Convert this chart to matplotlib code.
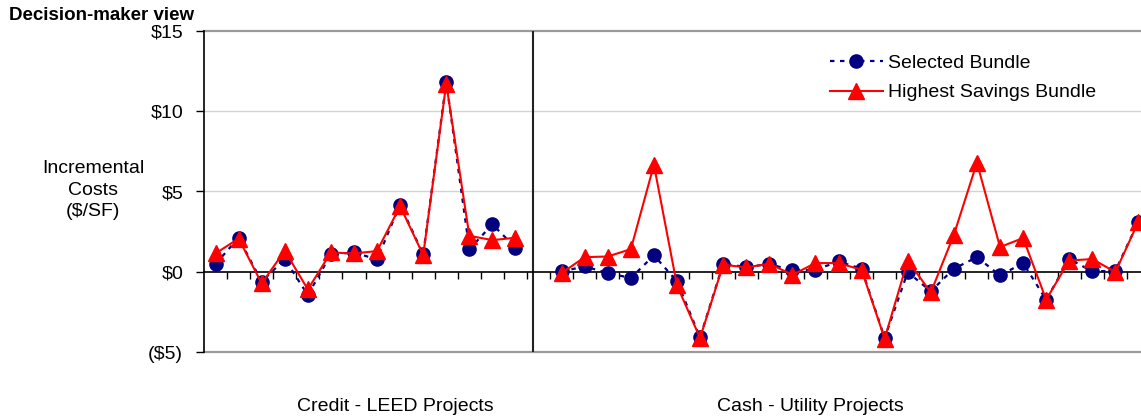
import numpy as np
import matplotlib
matplotlib.use("Agg")
import matplotlib.pyplot as plt
from matplotlib.ticker import FixedLocator, FuncFormatter

plt.rcParams['font.family'] = ['Liberation Sans', 'DejaVu Sans']

# Per-project incremental cost ($/SF); the blank slot separates the two project groups
selected_credit = [0.48, 2.12, -0.62, 0.79, -1.45, 1.08, 1.20, 0.77, 4.19, 1.08, 11.83, 1.41, 2.95, 1.51]
highest_credit = [1.14, 2.07, -0.73, 1.31, -1.10, 1.20, 1.14, 1.29, 4.09, 1.04, 11.72, 2.24, 1.97, 2.12]

selected_cash = [0.02, 0.33, -0.08, -0.39, 1.02, -0.60, -4.09, 0.50, 0.29, 0.48, 0.08, 0.12, 0.64,
                 0.19, -4.13, -0.02, -1.22, 0.19, 0.91, -0.23, 0.54, -1.74, 0.79, 0.02, 0.06, 3.13]
highest_cash = [-0.08, 0.91, 0.95, 1.41, 6.66, -0.85, -4.13, 0.44, 0.27, 0.50, -0.19, 0.54, 0.54,
                0.12, -4.17, 0.70, -1.29, 2.30, 6.80, 1.54, 2.10, -1.74, 0.70, 0.79, -0.02, 3.13]

group_labels = ["Credit - LEED Projects", "Cash - Utility Projects"]
series_labels = ["Selected Bundle", "Highest Savings Bundle"]
y_ticks = [-5, 0, 5, 10, 15]

selected = np.array(selected_credit + [np.nan] + selected_cash)
highest = np.array(highest_credit + [np.nan] + highest_cash)
x = np.arange(len(selected))

W, H = 1141, 419
fig = plt.figure(figsize=(W / 100, H / 100), dpi=100)
ax = fig.add_axes([204 / W, 67 / H, 946 / W, 321 / H])

ax.set_xlim(-0.5, len(x) - 0.5)
ax.set_ylim(-5, 15)

# gridlines and frame
for v in (5, 10):
    ax.axhline(v, color='#d4d4d4', lw=1.0, zorder=0)
ax.axhline(15, color='#9a9a9a', lw=1.6, zorder=1, clip_on=False)
ax.axhline(-5, color='#9a9a9a', lw=1.6, zorder=1, clip_on=False)
ax.spines['top'].set_visible(False)
ax.spines['right'].set_visible(False)
ax.spines['left'].set_color('black')
ax.spines['left'].set_linewidth(1.2)
ax.spines['bottom'].set_position(('data', 0))
ax.spines['bottom'].set_color('black')
ax.spines['bottom'].set_linewidth(1.2)

# group divider
ax.axvline(13.76, color='#222222', lw=1.5, zorder=2)

ax.plot(x, selected, color='#000080', lw=1.6, ls=(0, (2, 2.5)),
        marker='o', ms=9.5, mec='#000080', mfc='#000080', label=series_labels[0], zorder=3)
ax.plot(x, highest, color='#ff0000', lw=1.5, ls='-',
        marker='^', ms=11, mec='#ff0000', mfc='#ff0000', label=series_labels[1], zorder=4)

ax.xaxis.set_major_locator(FixedLocator(np.arange(0.5, len(x) - 0.5, 1.0)))
ax.tick_params(axis='x', direction='out', length=5, width=1.0, color='black', labelbottom=False)
ax.yaxis.set_major_locator(FixedLocator(y_ticks))
ax.yaxis.set_major_formatter(FuncFormatter(lambda v, p: f"(${abs(int(v))})" if v < 0 else f"${int(v)}"))
ax.tick_params(axis='y', direction='out', length=6, width=1.0, pad=9, labelsize=14)

fig.text(9 / W, 1 - 16 / H, "Decision-maker view", fontsize=13.5, fontweight='bold', va='center', ha='left')
fig.text(93 / W, 1 - 190 / H, "Incremental\nCosts\n($/SF)", fontsize=14, ha='center', va='center',
         linespacing=1.35)
fig.text(395 / W, 1 - 406 / H, group_labels[0], fontsize=14, ha='center', va='center')
fig.text(810 / W, 1 - 406 / H, group_labels[1], fontsize=14, ha='center', va='center')

fig.legend(loc='center left', bbox_to_anchor=(830 / W, 1 - 78 / H), frameon=False, fontsize=14,
           handlelength=2.7, handletextpad=0.28, labelspacing=0.6, borderpad=0, borderaxespad=0)

fig.savefig("out.png", dpi=100)
